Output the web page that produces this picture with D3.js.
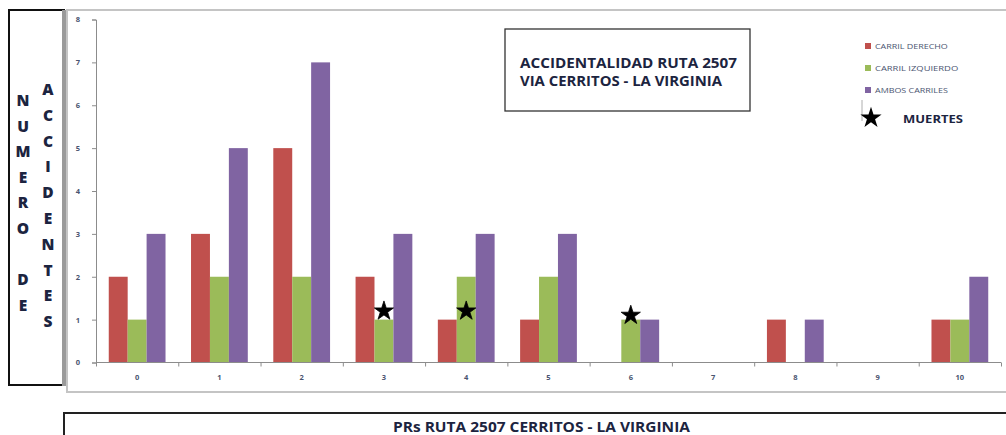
<html>
<script src="https://d3js.org/d3.v7.min.js"></script>
<style>
  body { margin: 0; background: #fff; }
  text { font-family: "Open Sans", "DejaVu Sans", sans-serif; }
</style>
<body>
<svg width=1006 height=435></svg>
<script>
// PR points along the route
var prs = ["0","1","2","3","4","5","6","7","8","9","10"];
var series = ["CARRIL DERECHO", "CARRIL IZQUIERDO", "AMBOS CARRILES"];
var derecho   = [2, 3, 5, 2, 1, 1, 0, 0, 1, 0, 1];
var izquierdo = [1, 2, 2, 1, 2, 2, 1, 0, 0, 0, 1];
var ambos     = [3, 5, 7, 3, 3, 3, 1, 0, 1, 0, 2];
var colors = ["#C0504D", "#9BBB59", "#8064A2"];
// deaths, drawn as stars over the left-lane bar
var muertesPR  = ["3", "4", "6"];
var muertesVal = [1.2, 1.2, 1.1];
var yTicks = [0, 1, 2, 3, 4, 5, 6, 7, 8];

var svg = d3.select("svg");
var ink = "#1c2440";

// left label box
svg.append("rect").attr("x", 9).attr("y", 10).attr("width", 55).attr("height", 375)
  .attr("fill", "none").attr("stroke", "#111").attr("stroke-width", 2);
svg.append("rect").attr("x", 62).attr("y", 10).attr("width", 4).attr("height", 376).attr("fill", "#9a9a9a");

// chart area frame
svg.append("rect").attr("x", 67).attr("y", 10).attr("width", 960).attr("height", 382)
  .attr("fill", "none").attr("stroke", "#c4c4c4").attr("stroke-width", 2);

function vertWord(word, x, y0, step) {
  svg.append("g").selectAll("text").data(word.split("")).enter().append("text")
    .attr("x", x).attr("y", function(d, i) { return y0 + i * step; })
    .attr("text-anchor", "middle").attr("dominant-baseline", "central")
    .style("font-size", "15.5px").style("font-weight", "800").attr("fill", ink)
    .text(function(d) { return d; });
}
vertWord("NUMERO DE", 23, 100, 25.6);
vertWord("ACCIDENTES", 48, 89, 25.8);

var y = d3.scaleLinear().domain([0, 8]).range([362.5, 19.5]);
var x0 = d3.scaleBand().domain(prs).range([96, 1001]).paddingInner(0.31).paddingOuter(0.155);
var x1 = d3.scaleBand().domain(series).range([0, x0.bandwidth()]);
var vals = [derecho, izquierdo, ambos];

// bars
var groups = svg.append("g").selectAll("g").data(prs).enter().append("g")
  .attr("transform", function(d) { return "translate(" + x0(d) + ",0)"; });
groups.selectAll("rect").data(function(d, i) {
    return series.map(function(s, k) { return {s: s, k: k, v: vals[k][i]}; });
  }).enter().append("rect")
  .attr("x", function(d) { return x1(d.s); })
  .attr("y", function(d) { return y(d.v); })
  .attr("width", x1.bandwidth())
  .attr("height", function(d) { return y(0) - y(d.v); })
  .attr("fill", function(d) { return colors[d.k]; });

// y axis
var ya = svg.append("g").attr("transform", "translate(96,0)")
  .call(d3.axisLeft(y).tickValues(yTicks).tickSize(4).tickPadding(12).tickFormat(d3.format("d")));
// x axis: labels at centres, ticks at boundaries
var xa = svg.append("g").attr("transform", "translate(0,362.5)")
  .call(d3.axisBottom(x0).tickSize(0).tickPadding(12));
var xb = svg.append("g").attr("transform", "translate(0,362.5)")
  .call(d3.axisBottom(d3.scaleLinear().domain([0, 11]).range([96, 1001])).ticks(11).tickSize(4).tickFormat(""));
xb.select(".domain").remove();
[ya, xa, xb].forEach(function(a) {
  a.selectAll("path,line").attr("stroke", "#8c8c8c");
  a.selectAll("text").attr("font-size", 7.5).attr("font-weight", "bold").attr("fill", "#4a5470");
});
xa.select(".domain").attr("d", "M96,0H1001");

// stars
var star = d3.symbol().type(d3.symbolStar).size(115);
svg.append("g").selectAll("path").data(muertesPR).enter().append("path")
  .attr("d", star)
  .attr("transform", function(d, i) {
    return "translate(" + (x0(d) + x1(series[1]) + x1.bandwidth() / 2) + "," + y(muertesVal[i]) + ")";
  })
  .attr("fill", "#000").attr("stroke", "#000").attr("stroke-width", 0.8);

// title box
svg.append("rect").attr("x", 505).attr("y", 29).attr("width", 245).attr("height", 82)
  .attr("fill", "#fff").attr("stroke", "#333").attr("stroke-width", 1.3);
svg.append("text").attr("x", 520).attr("y", 68).attr("font-size", 14).attr("font-weight", "bold")
  .attr("fill", ink).attr("textLength", 217).attr("lengthAdjust", "spacingAndGlyphs")
  .text("ACCIDENTALIDAD RUTA 2507");
svg.append("text").attr("x", 520).attr("y", 86).attr("font-size", 14).attr("font-weight", "bold")
  .attr("fill", ink).attr("textLength", 202).attr("lengthAdjust", "spacingAndGlyphs")
  .text("VIA CERRITOS - LA VIRGINIA");

// legend
var lg = svg.append("g").selectAll("g").data(series).enter().append("g")
  .attr("transform", function(d, i) { return "translate(865," + (46 + i * 22) + ")"; });
lg.append("rect").attr("x", 0).attr("y", -3).attr("width", 6).attr("height", 6)
  .attr("fill", function(d, i) { return colors[i]; });
lg.append("text").attr("x", 10).attr("y", 3).attr("font-size", 8).attr("fill", "#4a5470")
  .attr("textLength", function(d) { return d.length * 5.2; }).attr("lengthAdjust", "spacingAndGlyphs")
  .text(function(d) { return d; });
svg.append("line").attr("x1", 862).attr("y1", 100).attr("x2", 862).attr("y2", 121)
  .attr("stroke", "#999").attr("stroke-width", 0.8);
svg.append("path").attr("d", d3.symbol().type(d3.symbolStar).size(140))
  .attr("transform", "translate(871,118)").attr("fill", "#000");
svg.append("text").attr("x", 903).attr("y", 123).attr("font-size", 10.5).attr("font-weight", "bold")
  .attr("fill", ink).attr("textLength", 60).attr("lengthAdjust", "spacingAndGlyphs").text("MUERTES");

// bottom axis title box
svg.append("rect").attr("x", 64).attr("y", 413).attr("width", 960).attr("height", 40)
  .attr("fill", "none").attr("stroke", "#222").attr("stroke-width", 2);
svg.append("text").attr("x", 393).attr("y", 432).attr("font-size", 13.5).attr("font-weight", "bold")
  .attr("fill", ink).attr("textLength", 297).attr("lengthAdjust", "spacingAndGlyphs")
  .text("PRs RUTA 2507 CERRITOS - LA VIRGINIA");
</script>
</body>
</html>
